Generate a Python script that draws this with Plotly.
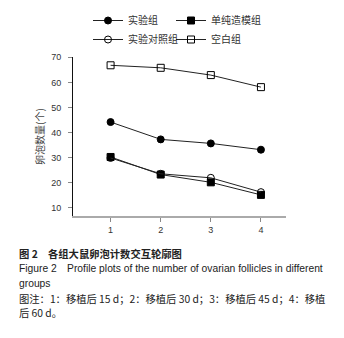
import plotly.graph_objects as go

x_vals = [1, 2, 3, 4]
series_names = ["实验组", "单纯造模组", "实验对照组", "空白组"]
exp_group = [44.2, 37.3, 35.7, 33.2]
model_group = [30.3, 23.3, 20.2, 15.2]
exp_ctrl_group = [29.9, 23.6, 22.0, 16.3]
blank_group = [66.8, 65.8, 62.9, 58.1]
y_ticks = [10, 20, 30, 40, 50, 60, 70]
x_ticks = [1, 2, 3, 4]

FONT = "Liberation Sans, Noto Sans CJK SC, Arial, sans-serif"
CJK = "Noto Sans CJK SC, Liberation Sans, sans-serif"

styles = [
    dict(symbol="circle", color="#000000", line=dict(color="#000000", width=1)),
    dict(symbol="square", color="#000000", line=dict(color="#000000", width=1)),
    dict(symbol="circle-open", color="#000000", line=dict(color="#000000", width=1)),
    dict(symbol="square-open", color="#000000", line=dict(color="#000000", width=1)),
]
data = [exp_group, model_group, exp_ctrl_group, blank_group]
legend_ids = ["legend", "legend2", "legend", "legend2"]

W, H = 344, 338
ML, MR, MT, MB = 73, 58, 57, 122
PW, PH = W - ML - MR, H - MT - MB

fig = go.Figure()
for name, ys, st, lg in zip(series_names, data, styles, legend_ids):
    fig.add_trace(go.Scatter(
        x=x_vals, y=ys, name=name, mode="lines+markers", legend=lg,
        line=dict(color="#222222", width=1),
        marker=dict(symbol=st["symbol"], size=7, color=st["color"],
                    line=st["line"]),
    ))

legend_common = dict(
    orientation="v", xanchor="left", yanchor="bottom",
    font=dict(family=CJK, size=10, color="#333333"),
    itemwidth=30, tracegroupgap=0, bgcolor="rgba(0,0,0,0)", borderwidth=0,
)

fig.update_layout(
    template="none",
    width=W, height=H,
    margin=dict(l=ML, r=MR, t=MT, b=MB, autoexpand=False),
    plot_bgcolor="white", paper_bgcolor="white",
    font=dict(family=FONT, size=10, color="#333333"),
    showlegend=True,
    legend=dict(x=(88 - ML) / PW, y=1 + (57 - 54) / PH, **legend_common),
    legend2=dict(x=(171 - ML) / PW, y=1 + (57 - 54) / PH, **legend_common),
    xaxis=dict(
        range=[0.25, 4.5], tickvals=x_ticks, ticktext=[str(t) for t in x_ticks],
        showgrid=False, zeroline=False, showline=True, linecolor="#aaaaaa",
        linewidth=1.5, ticks="outside", ticklen=4, tickcolor="#888888",
        tickfont=dict(size=9, color="#333333"),
    ),
    yaxis=dict(
        range=[6.8, 70.1], tickvals=y_ticks,
        showgrid=False, zeroline=False, showline=True, linecolor="#111111",
        linewidth=1, ticks="outside", ticklen=4, tickcolor="#888888",
        ticklabelstandoff=5,
        tickfont=dict(size=9, color="#333333"),
        title=dict(text="卵泡数量(个)", font=dict(family=CJK, size=10, color="#444444"), standoff=4),
    ),
)

captions = [
    ("<b>图 2　各组大鼠卵泡计数交互轮廓图</b>", 253),
    ("Figure 2　Profile plots of the number of ovarian follicles in different", 268),
    ("groups", 283),
    ("图注：1：移植后 15 d；2：移植后 30 d；3：移植后 45 d；4：移植", 298),
    ("后 60 d。", 312),
]
for text, ypx in captions:
    fig.add_annotation(
        text=text, xref="paper", yref="paper",
        x=(17 - ML) / PW, xanchor="left",
        y=1 - (ypx - MT) / PH, yanchor="middle",
        showarrow=False,
        font=dict(family=CJK if text[0] in "图后<" else FONT, size=10.3, color="#222222"),
        align="left",
    )

fig.write_html(
    "out.html",
    config={"displayModeBar": False},
    post_script="document.body.style.margin='0';document.body.style.padding='0';",
)
